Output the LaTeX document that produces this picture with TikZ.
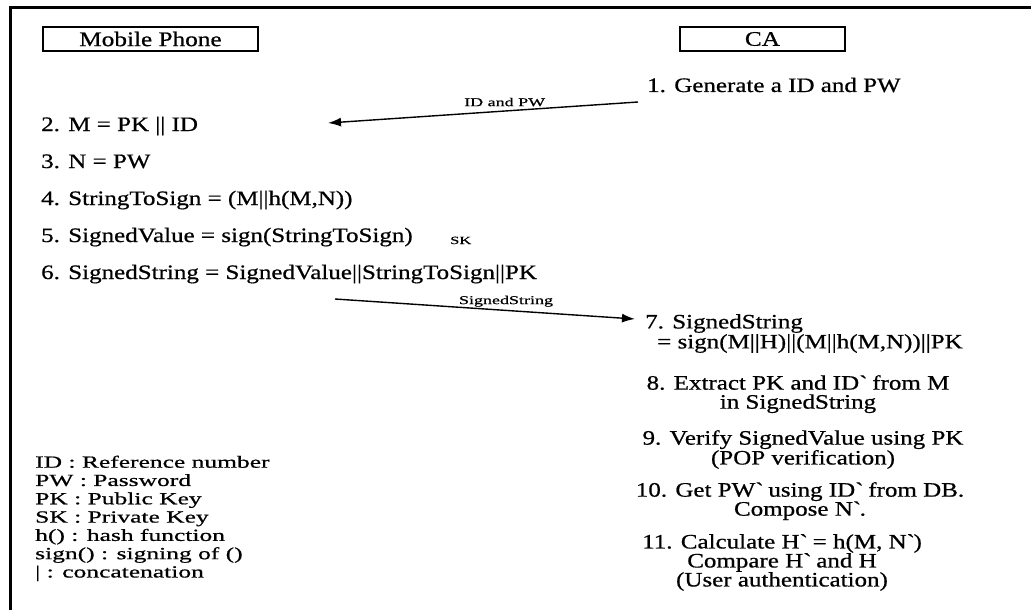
\documentclass[tikz,border=0pt]{standalone}
\usepackage{fontspec}
\setmainfont{Liberation Serif}
\newfontfamily\stepfont[FakeStretch=1.22, FakeBold=0.7]{Liberation Serif}
\newfontfamily\keyfont[FakeStretch=1.5, FakeBold=0.7]{Liberation Serif}
\usepackage{tikz}
\usetikzlibrary{arrows.meta, positioning}

\begin{document}
\begin{tikzpicture}[x=1pt, y=-1pt,
	party/.style={draw, line width=1.2pt, inner sep=0pt, font=\stepfont\fontsize{20.7}{20}\selectfont},
	stepnode/.style={inner sep=0pt, font=\stepfont\fontsize{20.5}{19}\selectfont},
	msglabel/.style={inner sep=0pt, font=\keyfont\fontsize{12}{12}\selectfont},
	msg/.style={line width=1.4pt, -{Latex[length=13pt, width=9pt]}}]
	
	\useasboundingbox (0,0) rectangle (1031,610);
	
	%// frame, only the top and left edges show
	\draw[line width=3pt] (10,610) -- (10,7.5) -- (1031,7.5);
	
	%// the two parties
	\node[party, minimum width=215, minimum height=24] (phone) at (150.5,39) {Mobile Phone};
	\node[party, minimum width=165, minimum height=24] (ca) at (762.5,39) {CA};
	
	%// steps on the phone side
	\node[stepnode, anchor=base west] (s1) at (647,92) {1. Generate a ID and PW};
	
	\foreach \i/\txt in {2/{2. M = PK || ID}, 3/{3. N = PW}, 4/{4. StringToSign = (M||h(M,N))}, 5/{5. SignedValue = sign(StringToSign)}, 6/{6. SignedString = SignedValue||StringToSign||PK}}
	\node[stepnode, anchor=base west] (s\i) at (41, {131+37*(\i-2)}) {\txt};
	
	\node[msglabel, font=\keyfont\fontsize{11}{11}\selectfont, anchor=base west] (sk) at (450,244) {SK};
	
	%// messages
	\coordinate (idout) at (638,102);
	\coordinate (idin) at (328,123);
	\draw[msg] (idout) -- node[msglabel, pos=0.43, above=4pt] (lblid) {ID and PW} (idin);
	
	\coordinate (ssout) at (335,299);
	\coordinate (ssin) at (635,319);
	\draw[msg] (ssout) -- node[msglabel, pos=0.57, above=3pt] (lblss) {SignedString} (ssin);
	
	%// steps at the CA
	\node[stepnode, font=\stepfont\fontsize{20.5}{20}\selectfont, anchor=north west, align=left] (s7) at (645,314)
	{7. SignedString\\\hspace*{12pt}= sign(M||H)||(M||h(M,N))||PK};
	\node[stepnode, anchor=north, align=center] (s8) at (798,375)
	{8. Extract PK and ID\textasciigrave{} from M\\in SignedString};
	\node[stepnode, font=\stepfont\fontsize{20.5}{17.5}\selectfont, anchor=north, align=center] (s9) at (803,430)
	{9. Verify SignedValue using PK\\(POP verification)};
	\node[stepnode, anchor=north, align=center] (s10) at (800,482)
	{10. Get PW\textasciigrave{} using ID\textasciigrave{} from DB.\\Compose N\textasciigrave{}.};
	\node[stepnode, anchor=north, align=center] (s11) at (782,534)
	{11. Calculate H\textasciigrave{} = h(M, N\textasciigrave{})\\Compare H\textasciigrave{} and H\\(User authentication)};
	
	%// key to the symbols
	\node[anchor=north west, align=left, inner sep=0pt, font=\keyfont\fontsize{17}{18.3}\selectfont] (keys) at (35,455.5)
	{ID : Reference number\\PW : Password\\PK : Public Key\\SK : Private Key\\h() : hash function\\sign() : signing of ()\\| : concatenation};
	
\end{tikzpicture}
\end{document}
